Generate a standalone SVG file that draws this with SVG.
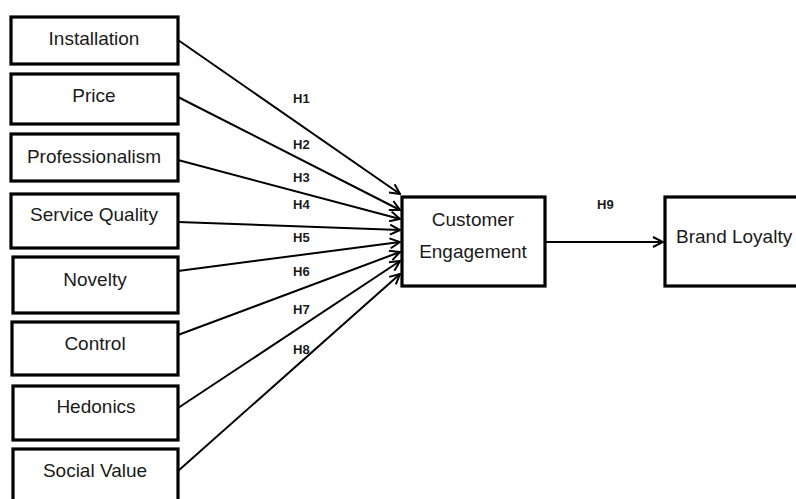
<svg xmlns="http://www.w3.org/2000/svg" width="796" height="499" viewBox="0 0 796 499">
<defs>
<marker id="arr" viewBox="0 0 12 12" refX="11" refY="6" markerWidth="12" markerHeight="12" markerUnits="userSpaceOnUse" orient="auto">
<path d="M1,1 L11,6 L1,11" fill="none" stroke="#000" stroke-width="2"/>
</marker>
<style>
.box{fill:#fff;stroke:#000;stroke-width:3.2}
.t{font-family:"Liberation Sans",Arial,sans-serif;font-size:19px;fill:#1a1a1a;text-anchor:middle}
.h{font-family:"Liberation Sans",Arial,sans-serif;font-size:13px;font-weight:bold;fill:#1a1a1a}
.c line{stroke:#000;stroke-width:2;marker-end:url(#arr)}
</style>
</defs>
<rect width="796" height="499" fill="#fff"/>
<g class="c" id="connectors">
<line x1="178" y1="40" x2="400" y2="194"/>
<line x1="178" y1="97" x2="400" y2="210"/>
<line x1="178" y1="160" x2="400" y2="219"/>
<line x1="178" y1="222" x2="400" y2="230"/>
<line x1="178" y1="271" x2="400" y2="242"/>
<line x1="178" y1="335" x2="400" y2="252"/>
<line x1="178" y1="408" x2="400" y2="261"/>
<line x1="178" y1="471" x2="400" y2="274"/>
<line x1="545" y1="242" x2="663" y2="242"/>
</g>
<g id="labels">
<text class="h" x="293" y="103">H1</text>
<text class="h" x="293" y="149">H2</text>
<text class="h" x="293" y="182">H3</text>
<text class="h" x="293" y="209">H4</text>
<text class="h" x="293" y="242">H5</text>
<text class="h" x="293" y="276">H6</text>
<text class="h" x="293" y="314">H7</text>
<text class="h" x="293" y="354">H8</text>
<text class="h" x="597" y="209">H9</text>
</g>
<g id="installation"><rect class="box" x="11" y="17" width="167" height="47"/><text class="t" x="94" y="45">Installation</text></g>
<g id="price"><rect class="box" x="11" y="74" width="167" height="50"/><text class="t" x="94" y="102">Price</text></g>
<g id="professionalism"><rect class="box" x="11" y="134" width="167" height="47"/><text class="t" x="94" y="163">Professionalism</text></g>
<g id="service-quality"><rect class="box" x="11" y="194" width="167" height="54"/><text class="t" x="94" y="221">Service Quality</text></g>
<g id="novelty"><rect class="box" x="13" y="257" width="165" height="56"/><text class="t" x="95" y="286">Novelty</text></g>
<g id="control"><rect class="box" x="12" y="322" width="166" height="53"/><text class="t" x="95" y="350">Control</text></g>
<g id="hedonics"><rect class="box" x="13" y="386" width="165" height="54"/><text class="t" x="96" y="413">Hedonics</text></g>
<g id="social-value"><rect class="box" x="13" y="449" width="165" height="60"/><text class="t" x="95" y="477">Social Value</text></g>
<g id="customer-engagement"><rect class="box" x="402" y="197" width="143" height="89"/><text class="t" x="473" y="226">Customer</text><text class="t" x="473" y="258">Engagement</text></g>
<g id="brand-loyalty"><rect class="box" x="665" y="197" width="150" height="89"/><text class="t" x="676" y="243" style="text-anchor:start">Brand Loyalty</text></g>
</svg>
